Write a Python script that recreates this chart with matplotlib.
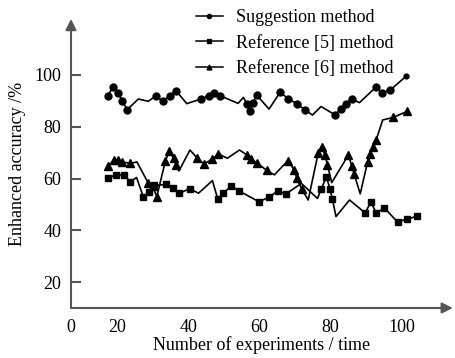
import matplotlib.pyplot as plt
import numpy as np

plt.rcParams['font.family'] = ['Liberation Serif', 'DejaVu Serif']

# Suggestion method (circles)
sug_x = [17.4, 19.0, 20.4, 21.5, 22.9, 26.0, 28.8, 31.0, 32.8, 34.9, 36.6, 39.6,
         43.6, 45.9, 47.3, 48.9, 54.0, 55.5, 56.5, 57.4, 58.2, 59.2, 62.7, 65.8,
         68.1, 70.5, 72.8, 74.9, 77.3, 81.2, 82.9, 84.2, 85.9, 88.1, 92.8, 94.4,
         96.7, 101.1]
sug_y = [92.0, 95.4, 93.2, 89.8, 86.6, 90.7, 89.8, 92.0, 89.8, 92.0, 93.9, 88.9,
         90.7, 92.0, 93.1, 92.0, 89.0, 91.3, 88.8, 85.9, 89.0, 92.3, 86.8, 93.3,
         90.8, 88.9, 86.5, 84.5, 87.8, 84.6, 86.8, 88.8, 90.7, 89.3, 95.4, 93.0,
         94.1, 99.4]
sug_nomark = [5, 6, 11, 16, 17, 22, 27, 28, 33, 37]

# Reference [5] method (squares)
r5_x = [17.5, 19.7, 22.0, 23.7, 25.5, 27.4, 29.1, 30.5, 33.7, 35.8, 37.5, 40.5,
        42.9, 46.8, 48.3, 49.9, 52.1, 54.3, 59.9, 62.8, 65.1, 67.5, 71.8, 76.3,
        77.4, 78.8, 79.8, 80.5, 81.5, 85.3, 89.7, 91.3, 92.8, 95.1, 98.8, 101.3,
        104.3]
r5_y = [60.3, 61.4, 61.4, 58.6, 60.4, 52.9, 54.9, 57.3, 57.7, 56.4, 54.3, 56.1,
        54.3, 59.2, 52.1, 54.4, 57.1, 55.2, 51.0, 52.9, 55.1, 54.1, 58.1, 52.3,
        56.0, 60.7, 56.1, 52.0, 45.3, 51.7, 46.7, 51.0, 46.7, 48.6, 43.2, 44.3,
        45.4]
r5_nomark = [4, 12, 13, 22, 23, 28, 29]

# Reference [6] method (triangles)
r6_x = [17.5, 19.2, 20.4, 21.5, 23.7, 25.6, 28.8, 30.0, 31.2, 33.6, 34.7, 35.9,
        36.7, 37.4, 40.5, 42.6, 44.4, 46.7, 48.5, 51.0, 54.4, 56.5, 57.6, 59.2,
        62.1, 64.2, 68.0, 69.8, 70.5, 71.9, 73.7, 76.5, 77.5, 78.4, 79.1, 80.3,
        85.0, 85.9, 86.6, 88.3, 90.4, 91.1, 91.9, 92.8, 94.6, 97.6, 101.4]
r6_y = [64.9, 67.0, 67.2, 66.5, 65.8, 66.4, 58.2, 57.0, 53.0, 66.8, 70.5, 67.8,
        65.1, 62.9, 71.0, 67.8, 65.6, 67.4, 69.5, 67.8, 71.0, 69.1, 67.5, 66.1,
        63.1, 61.4, 66.9, 63.3, 60.1, 55.9, 51.7, 69.8, 72.3, 69.1, 65.3, 58.4,
        69.1, 64.9, 61.7, 54.1, 66.5, 69.5, 72.3, 74.9, 82.6, 83.6, 85.9]
r6_nomark = [5, 13, 14, 19, 20, 25, 30, 35, 39, 44]

labels = ['Suggestion method', 'Reference [5] method', 'Reference [6] method']
xtick_pos = [7.1, 20, 40, 60, 80, 100]
xtick_lab = ['0', '20', '40', '60', '80', '100']
ytick_pos = [20, 40, 60, 80, 100]


def marks(n, skip):
    return [i for i in range(n) if i not in skip]


fig = plt.figure(figsize=(4.56, 3.58), dpi=100)
ax = fig.add_axes([0.1557, 0.1397, 0.8373, 0.8073])

ax.plot(sug_x[:-1], sug_y[:-1], color='black', lw=1.2, marker='o', ms=5,
        markevery=marks(len(sug_x) - 1, sug_nomark))
ax.plot(sug_x[-2:], sug_y[-2:], color='black', lw=1.2, marker='o', ms=3.5,
        markevery=[1])
ax.plot(r5_x, r5_y, color='black', lw=1.2, marker='s', ms=4.8,
        markevery=marks(len(r5_x), r5_nomark))
ax.plot(r6_x, r6_y, color='black', lw=1.2, marker='^', ms=5.5,
        markevery=marks(len(r6_x), r6_nomark))

ax.set_xlim(7.1, 114.3)
ax.set_ylim(10, 121.6)

for s in ax.spines.values():
    s.set_visible(False)

axis_c = '#555555'
ax.annotate('', xy=(1, 0), xytext=(0, 0), xycoords='axes fraction',
            arrowprops=dict(arrowstyle='-|>', color=axis_c, lw=1.5,
                            mutation_scale=16, shrinkA=0, shrinkB=0))
ax.annotate('', xy=(0, 1), xytext=(0, 0), xycoords='axes fraction',
            arrowprops=dict(arrowstyle='-|>', color=axis_c, lw=1.5,
                            mutation_scale=16, shrinkA=0, shrinkB=0))

ax.set_xticks(xtick_pos)
ax.set_xticklabels(xtick_lab)
ax.set_yticks(ytick_pos)
ax.tick_params(axis='x', length=0, pad=8, labelsize=13)
ax.tick_params(axis='y', direction='in', length=7, width=1.5, color=axis_c,
               pad=7, labelsize=13)

ax.set_xlabel('Number of experiments / time', fontsize=13, labelpad=0)
ax.set_ylabel('Enhanced accuracy /%', fontsize=13, labelpad=6)

handles = [
    plt.Line2D([], [], color='black', lw=1.1, marker='o', ms=3),
    plt.Line2D([], [], color='black', lw=1.1, marker='s', ms=3),
    plt.Line2D([], [], color='black', lw=1.1, marker='^', ms=3.5),
]
fig.legend(handles, labels, loc='upper left', bbox_to_anchor=(0.405, 1.005),
           frameon=False, fontsize=13, handlelength=1.5, handletextpad=0.75,
           labelspacing=0.48, borderpad=0.1)

fig.savefig('out.png', dpi=100)
